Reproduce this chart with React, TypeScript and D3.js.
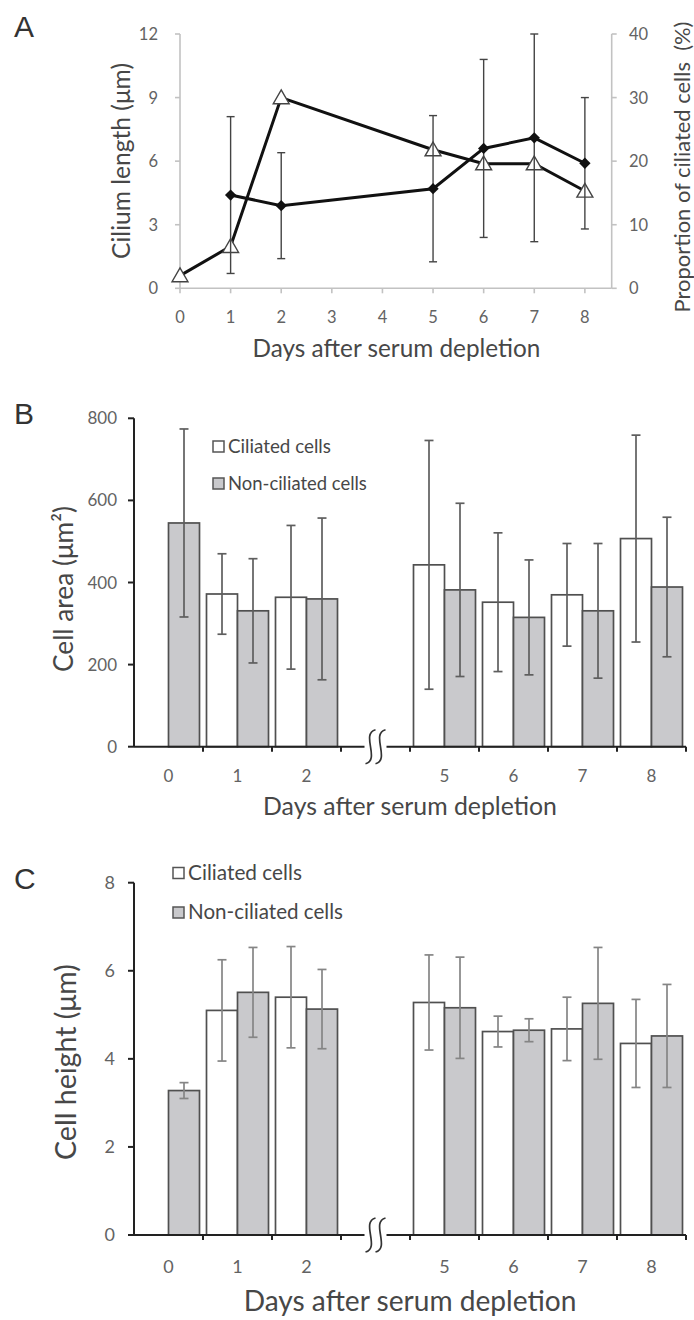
import React, { useRef, useEffect } from 'react';
import * as d3 from 'd3';

const W = 694;
const H = 1320;
const FONT = 'Lato, "Open Sans", sans-serif';
const LETTER_FONT = '"Liberation Sans", Arial, sans-serif';

// panel A
const daysA = [0, 1, 2, 5, 6, 7, 8];
const ciliatedPct = [2, 6.6, 30, 21.8, 19.6, 19.6, 15.3];
const lengthDays = [1, 2, 5, 6, 7, 8];
const ciliumLength = [4.4, 3.9, 4.7, 6.6, 7.1, 5.9];
const ciliumLengthSd = [3.7, 2.5, 3.45, 4.2, 4.9, 3.1];
const dayTicksA = [0, 1, 2, 3, 4, 5, 6, 7, 8];
const lengthTicks = [0, 3, 6, 9, 12];
const pctTicks = [0, 10, 20, 30, 40];

// panels B and C
const barDays = ['0', '1', '2', '5', '6', '7', '8'];
const slots = ['0', '1', '2', 'gap', '5', '6', '7', '8'];
const areaCiliated = [null, 372, 364, 443, 352, 370, 507];
const areaCiliatedSd = [null, 98, 175, 303, 169, 125, 252];
const areaNonCiliated = [545, 331, 360, 382, 315, 331, 389];
const areaNonCiliatedSd = [229, 127, 197, 211, 140, 164, 170];
const areaTicks = [0, 200, 400, 600, 800];
const heightCiliated = [null, 5.1, 5.4, 5.28, 4.62, 4.68, 4.35];
const heightCiliatedSd = [null, 1.15, 1.15, 1.08, 0.35, 0.72, 1.0];
const heightNonCiliated = [3.28, 5.51, 5.13, 5.16, 4.65, 5.26, 4.52];
const heightNonCiliatedSd = [0.18, 1.02, 0.9, 1.15, 0.26, 1.27, 1.17];
const heightTicks = [0, 2, 4, 6, 8];
const legendLabels = ['Ciliated cells', 'Non-ciliated cells'];

const xTitle = 'Days after serum depletion';
const TITLE_COL = '#474747';
const TICK_COL = '#636363';

// shrink/grow the font so the text spans the width measured on the reference
function fitText(sel, target) {
  const node = sel.node();
  const len = node.getComputedTextLength();
  const size = +sel.attr('font-size');
  if (len > 0) sel.attr('font-size', (size * target) / len);
  return sel;
}

function errBar(g, x, yTop, yBot, cap, color, width) {
  g.append('line').attr('x1', x).attr('x2', x).attr('y1', yTop).attr('y2', yBot)
    .attr('stroke', color).attr('stroke-width', width);
  [yTop, yBot].forEach(yy => {
    g.append('line').attr('x1', x - cap / 2).attr('x2', x + cap / 2).attr('y1', yy).attr('y2', yy)
      .attr('stroke', color).attr('stroke-width', width);
  });
}

function drawPanelA(svg) {
  const g = svg.append('g');
  const x = d3.scaleLinear().domain([0, 8.53]).range([180, 611.7]);
  const yL = d3.scaleLinear().domain([0, 12]).range([288.3, 34]);
  const yR = d3.scaleLinear().domain([0, 40]).range([288.3, 34]);
  const axisCol = '#c2c2c2';

  g.append('text').attr('x', 14).attr('y', 37).text('A')
    .attr('font-family', LETTER_FONT).attr('font-size', 30).attr('fill', '#333');

  // axes
  g.append('line').attr('x1', x(0)).attr('x2', x(8.53)).attr('y1', yL(0)).attr('y2', yL(0))
    .attr('stroke', axisCol).attr('stroke-width', 1.6);
  g.append('line').attr('x1', x(0)).attr('x2', x(0)).attr('y1', yL(0)).attr('y2', yL(12))
    .attr('stroke', axisCol).attr('stroke-width', 1.6);
  g.append('line').attr('x1', x(8.53)).attr('x2', x(8.53)).attr('y1', yR(0)).attr('y2', yR(40))
    .attr('stroke', axisCol).attr('stroke-width', 1.6);

  dayTicksA.forEach(d => {
    g.append('line').attr('x1', x(d)).attr('x2', x(d)).attr('y1', yL(0)).attr('y2', yL(0) + 5)
      .attr('stroke', axisCol).attr('stroke-width', 1.6);
    g.append('text').attr('x', x(d)).attr('y', 323).attr('text-anchor', 'middle').text(d)
      .attr('font-family', FONT).attr('font-size', 16.5).attr('fill', TICK_COL);
  });
  lengthTicks.forEach(v => {
    g.append('line').attr('x1', x(0) - 5).attr('x2', x(0)).attr('y1', yL(v)).attr('y2', yL(v))
      .attr('stroke', axisCol).attr('stroke-width', 1.6);
    g.append('text').attr('x', 158).attr('y', yL(v) + 6).attr('text-anchor', 'end').text(v)
      .attr('font-family', FONT).attr('font-size', 16.5).attr('fill', TICK_COL);
  });
  pctTicks.forEach(v => {
    g.append('line').attr('x1', x(8.53)).attr('x2', x(8.53) + 5).attr('y1', yR(v)).attr('y2', yR(v))
      .attr('stroke', axisCol).attr('stroke-width', 1.6);
    g.append('text').attr('x', 629).attr('y', yR(v) + 6).attr('text-anchor', 'start').text(v)
      .attr('font-family', FONT).attr('font-size', 16.5).attr('fill', TICK_COL);
  });

  fitText(g.append('text').attr('x', 396.5).attr('y', 357).attr('text-anchor', 'middle').text(xTitle)
    .attr('font-family', FONT).attr('font-size', 24).attr('fill', TITLE_COL), 288);
  fitText(g.append('text').attr('transform', 'translate(121,161) rotate(-90)').attr('dy', '0.35em')
    .attr('text-anchor', 'middle').text('Cilium length (μm)')
    .attr('font-family', FONT).attr('font-size', 24).attr('fill', TITLE_COL), 196);
  fitText(g.append('text').attr('transform', 'translate(682,167) rotate(-90)').attr('dy', '0.35em')
    .attr('text-anchor', 'middle').style('white-space', 'pre')
    .text('Proportion of ciliated cells  (%)')
    .attr('font-family', FONT).attr('font-size', 21).attr('fill', TITLE_COL), 291);

  // triangle series (proportion, right axis)
  const triPts = daysA.map((d, i) => [d, ciliatedPct[i]]);
  g.append('path').datum(triPts)
    .attr('d', d3.line().x(d => x(d[0])).y(d => yR(d[1])))
    .attr('fill', 'none').attr('stroke', '#111').attr('stroke-width', 3);
  g.selectAll('.tri').data(triPts).join('path')
    .attr('transform', d => `translate(${x(d[0])},${yR(d[1]) + 1.5})`)
    .attr('d', d3.symbol(d3.symbolTriangle, 110))
    .attr('fill', '#fff').attr('stroke', '#444').attr('stroke-width', 1.4);

  // diamond series (cilium length, left axis)
  const diaPts = lengthDays.map((d, i) => [d, ciliumLength[i], ciliumLengthSd[i]]);
  diaPts.forEach(d => errBar(g, x(d[0]), yL(d[1] + d[2]), yL(d[1] - d[2]), 8, '#444', 1.4));
  g.append('path').datum(diaPts)
    .attr('d', d3.line().x(d => x(d[0])).y(d => yL(d[1])))
    .attr('fill', 'none').attr('stroke', '#111').attr('stroke-width', 3);
  g.selectAll('.dia').data(diaPts).join('path')
    .attr('transform', d => `translate(${x(d[0])},${yL(d[1])}) rotate(45)`)
    .attr('d', d3.symbol(d3.symbolSquare, 64))
    .attr('fill', '#111');
}

function drawBarPanel(svg, cfg) {
  const g = svg.append('g');
  const slot = d3.scaleBand().domain(slots).range([134, 686]);
  const y = d3.scaleLinear().domain([0, cfg.yMax]).range([cfg.y0, cfg.yTop]);
  const bw = 31;
  const x0 = y(0);

  g.append('text').attr('x', cfg.letterX).attr('y', cfg.letterY).text(cfg.letter)
    .attr('font-family', LETTER_FONT).attr('font-size', 30).attr('fill', '#333');

  // bars
  const bars = [];
  barDays.forEach((d, i) => {
    const cx = slot(d) + slot.bandwidth() / 2;
    if (cfg.cil[i] != null) bars.push({ x: cx - bw, v: cfg.cil[i], sd: cfg.cilSd[i], fill: '#fff' });
    bars.push({ x: cx, v: cfg.non[i], sd: cfg.nonSd[i], fill: '#c9c9cc' });
  });
  g.selectAll('.bar').data(bars).join('rect')
    .attr('x', d => d.x).attr('width', bw)
    .attr('y', d => y(d.v)).attr('height', d => x0 - y(d.v))
    .attr('fill', d => d.fill).attr('stroke', '#505050').attr('stroke-width', 1.7);
  bars.forEach(d => errBar(g, d.x + bw / 2, y(d.v + d.sd), y(d.v - d.sd), 9, cfg.errCol, 1.7));

  // y axis
  g.append('line').attr('x1', 134).attr('x2', 134).attr('y1', x0).attr('y2', y(cfg.yMax))
    .attr('stroke', '#222').attr('stroke-width', 2);
  cfg.ticks.forEach(v => {
    g.append('line').attr('x1', 128).attr('x2', 134).attr('y1', y(v)).attr('y2', y(v))
      .attr('stroke', '#222').attr('stroke-width', 2);
    g.append('text').attr('x', cfg.labelX).attr('y', y(v) + 6).attr('text-anchor', 'end').text(v)
      .attr('font-family', FONT).attr('font-size', cfg.tickSize).attr('fill', TICK_COL);
  });

  // x axis with break
  const gx = slot('gap') + slot.bandwidth() / 2;
  g.append('line').attr('x1', 134).attr('x2', gx - 11).attr('y1', x0).attr('y2', x0)
    .attr('stroke', '#222').attr('stroke-width', 2);
  g.append('line').attr('x1', gx + 11).attr('x2', 686).attr('y1', x0).attr('y2', x0)
    .attr('stroke', '#222').attr('stroke-width', 2);
  [-5, 5].forEach(off => {
    const cx = gx + off;
    g.append('path')
      .attr('d', `M${cx + 5},${x0 - 17} C${cx - 10},${x0 - 13} ${cx + 10},${x0 + 13} ${cx - 5},${x0 + 17}`)
      .attr('fill', 'none').attr('stroke', '#333').attr('stroke-width', 1.7);
  });
  slots.forEach(s => {
    const bx = slot(s) + slot.bandwidth();
    g.append('line').attr('x1', bx).attr('x2', bx).attr('y1', x0).attr('y2', x0 + 5)
      .attr('stroke', '#222').attr('stroke-width', 2);
  });
  barDays.forEach(d => {
    g.append('text').attr('x', slot(d) + slot.bandwidth() / 2).attr('y', cfg.xLabelY)
      .attr('text-anchor', 'middle').text(d)
      .attr('font-family', FONT).attr('font-size', cfg.tickSize).attr('fill', TICK_COL);
  });

  fitText(g.append('text').attr('x', 410).attr('y', cfg.xTitleY).attr('text-anchor', 'middle').text(xTitle)
    .attr('font-family', FONT).attr('font-size', 25).attr('fill', TITLE_COL), cfg.xTitleW);
  fitText(g.append('text').attr('transform', `translate(${cfg.yTitleX},${cfg.yTitleY}) rotate(-90)`)
    .attr('dy', '0.35em').attr('text-anchor', 'middle').text(cfg.yTitle)
    .attr('font-family', FONT).attr('font-size', 25).attr('fill', TITLE_COL), cfg.yTitleW);

  // legend
  legendLabels.forEach((lab, i) => {
    const ly = cfg.legY + i * cfg.legGap;
    g.append('rect').attr('x', cfg.legX).attr('y', ly).attr('width', 11).attr('height', 11)
      .attr('fill', i === 0 ? '#fff' : '#c9c9cc').attr('stroke', '#555').attr('stroke-width', 1.5);
    fitText(g.append('text').attr('x', cfg.legX + 15).attr('y', ly + 12).text(lab)
      .attr('font-family', FONT).attr('font-size', 16).attr('fill', TITLE_COL), cfg.legW[i]);
  });
}

export default function App() {
  const ref = useRef(null);

  useEffect(() => {
    const svg = d3.select(ref.current);
    svg.selectAll('*').remove();
    svg.append('rect').attr('width', W).attr('height', H).attr('fill', '#fff');

    drawPanelA(svg);

    drawBarPanel(svg, {
      letter: 'B', letterX: 14, letterY: 424,
      yMax: 800, y0: 746.7, yTop: 418.3, ticks: areaTicks,
      cil: areaCiliated, cilSd: areaCiliatedSd, non: areaNonCiliated, nonSd: areaNonCiliatedSd,
      errCol: '#5e5e5e', labelX: 117, tickSize: 17, xLabelY: 782,
      xTitleY: 815, xTitleW: 294, yTitleX: 64, yTitleY: 589, yTitleW: 166, yTitle: 'Cell area (μm²)',
      legX: 213, legY: 441, legGap: 37, legW: [103, 139],
    });

    drawBarPanel(svg, {
      letter: 'C', letterX: 14, letterY: 889,
      yMax: 8, y0: 1235, yTop: 882.7, ticks: heightTicks,
      cil: heightCiliated, cilSd: heightCiliatedSd, non: heightNonCiliated, nonSd: heightNonCiliatedSd,
      errCol: '#858585', labelX: 115, tickSize: 18, xLabelY: 1273,
      xTitleY: 1311, xTitleW: 333, yTitleX: 66, yTitleY: 1062, yTitleW: 196, yTitle: 'Cell height (μm)',
      legX: 173, legY: 867.5, legGap: 39.5, legW: [114, 155],
    });
  }, []);

  return (
    <svg ref={ref} width={W} height={H}
      style={{ position: 'absolute', left: 0, top: 0, display: 'block' }} />
  );
}
